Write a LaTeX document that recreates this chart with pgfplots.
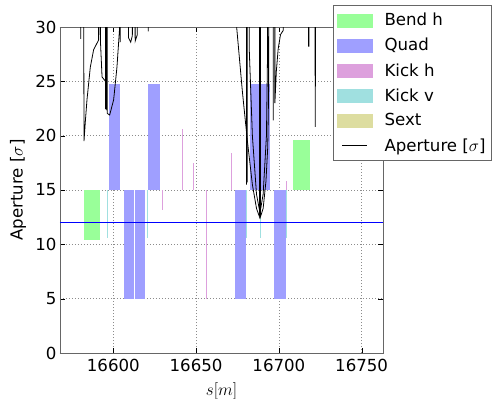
\documentclass[border=0pt]{standalone}
\usepackage{pgfplots}
\pgfplotsset{compat=1.18}
\usepackage{fontspec}
\setmainfont{DejaVu Sans}
\definecolor{bendc}{RGB}{153,255,153}
\definecolor{quadc}{RGB}{159,159,255}
\definecolor{kickhc}{RGB}{221,160,221}
\definecolor{kickvc}{RGB}{160,224,224}
\definecolor{sextc}{RGB}{221,221,160}
\begin{document}
\begin{tikzpicture}
\begin{axis}[
  scale only axis, width=323bp, height=326bp,
  xmin=16567.8, xmax=16762.9, ymin=0, ymax=30,
  xtick={16600,16650,16700,16750}, ytick={0,5,10,15,20,25,30},
  scaled ticks=false,
  /pgf/number format/assume math mode=true,
  /pgf/number format/1000 sep={},
  tick label style={font=\fontsize{16.67}{20}\selectfont},
  xticklabel shift=3bp,
  tick align=inside, major tick length=5bp, tick style={black},
  axis line style={black!60},
  grid=major, grid style={black!45, line width=0.5pt, dash pattern=on 1bp off 2bp},
  xlabel={$s[m]$}, ylabel={Aperture [$\sigma$]},
  label style={font=\fontsize{16.67}{20}\selectfont},
  xlabel style={at={(axis description cs:0.5,-0.116)}, anchor=center},
  ylabel style={at={(axis description cs:-0.130,0.5)}, anchor=center},
  legend style={at={(0.845,1.0675)}, anchor=north west, draw=black!60, fill=white,
    font=\fontsize{16.67}{20}\selectfont, row sep=7bp, inner xsep=4bp, inner ysep=6bp,
    cells={anchor=west},
    /tikz/every odd column/.append style={column sep=10bp}},
]
% legend images
\addlegendimage{legend image code/.code={\fill[bendc] (0bp,-6.5bp) rectangle (35bp,6.5bp);}}
\addlegendentry{Bend h}
\addlegendimage{legend image code/.code={\fill[quadc] (0bp,-6.5bp) rectangle (35bp,6.5bp);}}
\addlegendentry{Quad}
\addlegendimage{legend image code/.code={\fill[kickhc] (0bp,-6.5bp) rectangle (35bp,6.5bp);}}
\addlegendentry{Kick h}
\addlegendimage{legend image code/.code={\fill[kickvc] (0bp,-6.5bp) rectangle (35bp,6.5bp);}}
\addlegendentry{Kick v}
\addlegendimage{legend image code/.code={\fill[sextc] (0bp,-6.5bp) rectangle (35bp,6.5bp);}}
\addlegendentry{Sext}
\addlegendimage{legend image code/.code={\draw[black, line width=0.8pt] (5bp,0bp) -- (30bp,0bp);}}
\addlegendentry{Aperture [$\sigma$]}

% Bends
\addplot[fill=bendc, draw=none, forget plot] coordinates {(16582.1,10.4) (16592.2,10.4) (16592.2,15) (16582.1,15)};
\addplot[fill=bendc, draw=none, forget plot] coordinates {(16708.7,15) (16718.8,15) (16718.8,19.6) (16708.7,19.6)};
% Quads
\addplot[fill=quadc, draw=none, forget plot] coordinates {(16597.2,15) (16603.8,15) (16603.8,24.8) (16597.2,24.8)};
\addplot[fill=quadc, draw=none, forget plot] coordinates {(16606.2,5) (16612.3,5) (16612.3,15) (16606.2,15)};
\addplot[fill=quadc, draw=none, forget plot] coordinates {(16612.9,5) (16618.9,5) (16618.9,15) (16612.9,15)};
\addplot[fill=quadc, draw=none, forget plot] coordinates {(16621.0,15) (16628.0,15) (16628.0,24.8) (16621.0,24.8)};
\addplot[fill=quadc, draw=none, forget plot] coordinates {(16673.7,5) (16680.1,5) (16680.1,15) (16673.7,15)};
\addplot[fill=quadc, draw=none, forget plot] coordinates {(16682.3,15) (16694.8,15) (16694.8,24.8) (16682.3,24.8)};
\addplot[fill=quadc, draw=none, forget plot] coordinates {(16697.2,5) (16704.5,5) (16704.5,15) (16697.2,15)};
% Kick h
\addplot[kickhc, line width=1pt, forget plot] coordinates {(16629.8,15) (16629.8,13.2)};
\addplot[kickhc, line width=1pt, forget plot] coordinates {(16641.7,15) (16641.7,20.6)};
\addplot[kickhc, line width=1pt, forget plot] coordinates {(16648.7,15) (16648.7,17.5)};
\addplot[kickhc, line width=1pt, forget plot] coordinates {(16656.0,15) (16656.0,5)};
\addplot[kickhc, line width=1pt, forget plot] coordinates {(16671.2,15) (16671.2,18.4)};
\addplot[kickhc, line width=1pt, forget plot] coordinates {(16704.8,15) (16704.8,15.8)};
% Kick v
\addplot[kickvc, line width=1pt, forget plot] coordinates {(16596.6,15) (16596.6,10.6)};
\addplot[kickvc, line width=1pt, forget plot] coordinates {(16620.6,15) (16620.6,10.6)};
\addplot[kickvc, line width=1pt, forget plot] coordinates {(16680.7,15) (16680.7,10.6)};
\addplot[kickvc, line width=1pt, forget plot] coordinates {(16688.8,15) (16688.8,10.6)};
\addplot[kickvc, line width=1pt, forget plot] coordinates {(16704.8,15) (16704.8,10.6)};
% reference line
\addplot[blue, line width=0.8pt, forget plot] coordinates {(16567.8,12) (16762.9,12)};
% Aperture
\addplot[black, line width=0.8pt, forget plot] coordinates {
(16567.8,60) (16580.2,60) (16580.3,28.9) (16580.5,60)
(16581.7,60) (16582.3,19.5) (16583.2,21.5) (16584.1,23.3) (16586.1,26.3) (16588.1,27.9) (16591.1,28.8) (16592.2,60)
(16592.2,28.8) (16593.2,25.4) (16595.3,25.0) (16595.3,60)
(16595.6,22.4) (16595.9,60) (16596.2,22.3) (16596.5,60) (16596.3,22.05)
(16597.8,21.9) (16600.2,23.3) (16602.2,26.3) (16603.8,29.9) (16604.0,60)
(16604.2,28.6) (16604.4,60)
(16608.3,60) (16609.2,29.0) (16610.5,28.6) (16611.5,29.2) (16612.3,60) (16613.2,28.7) (16614.5,29.3) (16615.3,60)
(16621.0,60) (16621.1,29.6) (16621.3,60)
(16674.5,60) (16674.5,30) (16678,24) (16681,19.5) (16684,15.5) (16686.5,13.3) (16688.6,12.4) (16690.5,13.3) (16692.2,15.8) (16693.3,19) (16693.8,24) (16694,60)
(16696.5,60) (16696.6,21.4) (16696.7,60)
(16697.5,60) (16697.6,23) (16698.5,26) (16699.6,28) (16701,29.3) (16702.7,29.7) (16703,60)
(16717.8,60) (16717.9,28.2) (16718.1,60) (16718.2,28.2) (16718.3,60)
(16721.3,60) (16722.0,20.8) (16722.4,60) (16762.9,60)
};
\addplot[black, line width=0.8pt, forget plot] coordinates {
(16680.3,60) (16680.5,15.5) (16680.7,60) (16680.9,15.7) (16681.1,60)
};
\addplot[black, line width=0.8pt, forget plot] coordinates {
(16681.9,60) (16682.1,28) (16684,20) (16686.5,14.6) (16688.6,12.9) (16690.5,14.6) (16692.5,20) (16693.2,28) (16693.4,60)
};
\addplot[black, line width=1.6pt, forget plot] coordinates {
(16688.6,60) (16688.6,12.6)
};
\addplot[black, line width=1.6pt, forget plot] coordinates {
(16595.6,60) (16595.6,22.5)
};
\end{axis}
\pgfresetboundingbox
\useasboundingbox (current axis.south west) ++(-60bp,-46bp) rectangle ++(493bp,399bp);
\end{tikzpicture}
\end{document}
